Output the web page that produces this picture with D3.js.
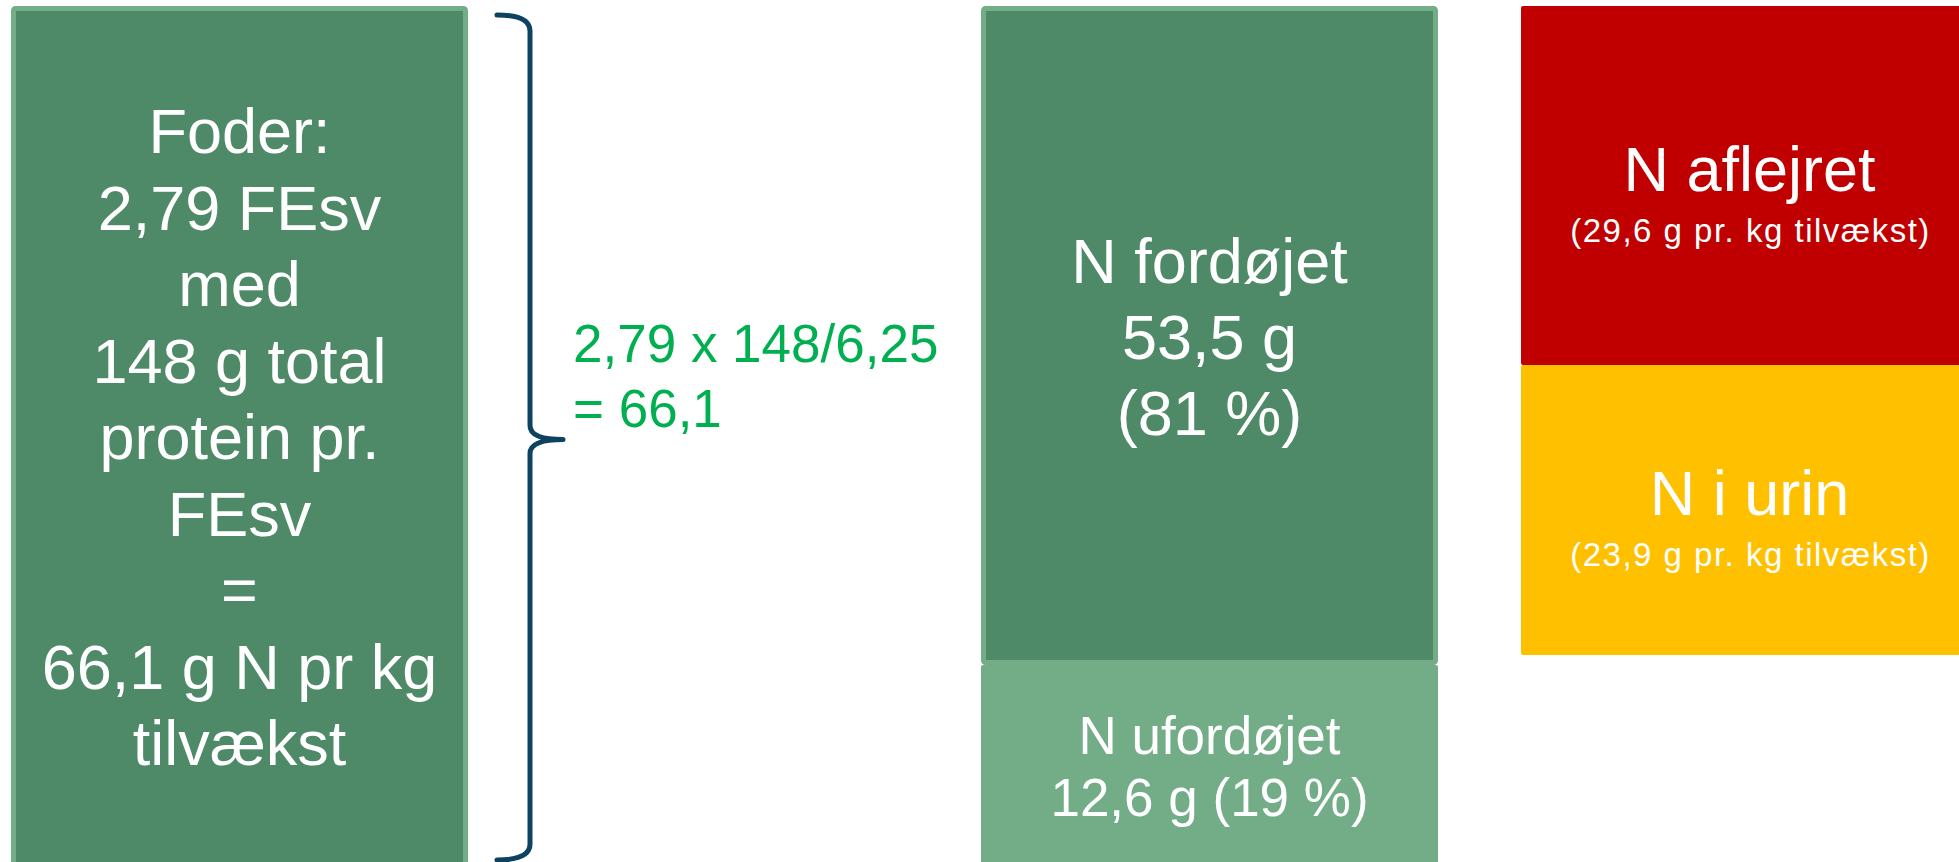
<!DOCTYPE html>
<html>
<head>
<meta charset="utf-8">
<script src="https://cdn.jsdelivr.net/npm/d3@7"></script>
<style>
  html, body { margin: 0; padding: 0; background: #ffffff; overflow: hidden; }
  svg { display: block; }
  text { font-family: "Liberation Sans", Arial, Helvetica, sans-serif; }
</style>
</head>
<body>
<svg id="chart"></svg>
<script>
// ---------------- data ----------------
const feedUnits = 2.79;          // FEsv per kg tilvækst
const proteinPerFE = 148;        // g total protein pr. FEsv
const nFactor = 6.25;            // protein -> N
const nTotal = 66.1;             // g N pr kg tilvækst

const digestCategories = ["N fordøjet", "N ufordøjet"];
const digestValues = [53.5, 12.6];
const digestPercents = [81, 19];

const fateCategories = ["N aflejret", "N i urin"];
const fateValues = [29.6, 23.9];

// ---------------- layout ----------------
const W = 1959, H = 862;
const topY = 6, overflowBottom = 867;
const colWidth = 457;
const colX = d3.scaleOrdinal().domain(["feed", "digest", "fate"]).range([11, 981, 1521]);
const digestBottom = 665, fateBottom = 655;

const darkGreen = "#4E8A67", lightGreen = "#72AD88", red = "#C00000",
      yellow = "#FFC000", formulaGreen = "#00B050", braceColor = "#0D4261";

const loc = d3.formatLocale({ decimal: ",", thousands: ".", grouping: [3], currency: ["", ""] });
const f1 = loc.format(".1f"), f2 = loc.format(".2f");

const svg = d3.select("#chart").attr("width", W).attr("height", H);

// scales
const yFeed = d3.scaleLinear().domain([0, nTotal]).range([topY, overflowBottom]);
const yDigest = d3.scaleLinear().domain([0, digestValues[0]]).range([topY, digestBottom]);
const yFate = d3.scaleLinear().domain([0, d3.sum(fateValues)]).range([topY, fateBottom]);

function box(x0, y0, x1, y1, fill, stroke, sw) {
  sw = sw || 0;
  svg.append("rect")
    .attr("x", x0 + sw / 2).attr("y", y0 + sw / 2)
    .attr("width", x1 - x0 - sw).attr("height", y1 - y0 - sw)
    .attr("rx", 2)
    .attr("fill", fill)
    .attr("stroke", stroke || "none")
    .attr("stroke-width", sw);
}

function lines(cx, firstBaseline, arr, size, lh, color) {
  const t = svg.append("text")
    .attr("text-anchor", "middle")
    .attr("font-size", size)
    .attr("fill", color);
  arr.forEach((s, i) => {
    t.append("tspan").attr("x", cx).attr("y", firstBaseline + i * lh).text(s);
  });
  return t;
}

// ---------- feed column ----------
const fx = colX("feed");
box(fx, yFeed(0), fx + colWidth, yFeed(nTotal), darkGreen, lightGreen, 5);
const feedLines = [
  "Foder:",
  f2(feedUnits) + " FEsv",
  "med",
  proteinPerFE + " g total",
  "protein pr.",
  "FEsv",
  "=",
  f1(nTotal) + " g N pr kg",
  "tilvækst"
];
{
  const cy = (yFeed(0) + yFeed(nTotal)) / 2, lh = 76.5, fs = 63;
  lines(fx + colWidth / 2, cy - (feedLines.length - 1) / 2 * lh + fs * 0.716 / 2, feedLines, fs, lh, "#ffffff");
}

// ---------- brace ----------
{
  const bx = 530, left = 497, tip = 563;
  const y0 = yFeed(0) + 9, y1 = H - 2, ym = (yFeed(0) + yFeed(nTotal)) / 2 + 3;
  const p = d3.path();
  p.moveTo(left, y0);
  p.quadraticCurveTo(bx, y0, bx, y0 + 16);
  p.lineTo(bx, ym - 14);
  p.quadraticCurveTo(bx, ym, tip, ym);
  p.quadraticCurveTo(bx, ym, bx, ym + 14);
  p.lineTo(bx, y1 - 16);
  p.quadraticCurveTo(bx, y1, left, y1);
  svg.append("path").attr("d", p.toString())
    .attr("fill", "none").attr("stroke", braceColor)
    .attr("stroke-width", 5).attr("stroke-linecap", "round").attr("stroke-linejoin", "round");

  const formula = svg.append("text").attr("font-size", 53).attr("fill", formulaGreen);
  formula.append("tspan").attr("x", 573).attr("y", ym - 78)
    .text(f2(feedUnits) + " x " + proteinPerFE + "/" + f2(nFactor));
  formula.append("tspan").attr("x", 573).attr("y", ym - 13)
    .text("= " + f1(feedUnits * proteinPerFE / nFactor));
}

// ---------- digest column ----------
const dx = colX("digest");
// undigested (lower) box runs from the end of the digested part to the column bottom
box(dx, yDigest(digestValues[0]), dx + colWidth, overflowBottom, lightGreen);
box(dx, yDigest(0), dx + colWidth, yDigest(digestValues[0]), darkGreen, lightGreen, 5);
{
  const cy = (yDigest(0) + yDigest(digestValues[0])) / 2, lh = 76, fs = 63;
  const arr = [digestCategories[0], f1(digestValues[0]) + " g", "(" + digestPercents[0] + " %)"];
  lines(dx + colWidth / 2, cy - lh + fs * 0.716 / 2 + 1, arr, fs, lh, "#ffffff");
}
{
  const cy = (yDigest(digestValues[0]) + overflowBottom) / 2, lh = 62, fs = 53;
  const arr = [digestCategories[1], f1(digestValues[1]) + " g (" + digestPercents[1] + " %)"];
  lines(dx + colWidth / 2, cy - lh / 2 + fs * 0.716 / 2, arr, fs, lh, "#ffffff");
}

// ---------- fate column ----------
const rx = colX("fate");
const fateColors = [red, yellow];
let acc = 0;
fateValues.forEach((v, i) => {
  const y0 = yFate(acc), y1 = yFate(acc + v);
  acc += v;
  box(rx, y0, rx + colWidth, y1, fateColors[i]);
  const cy = (y0 + y1) / 2;
  const cx = rx + colWidth / 2;
  svg.append("text").attr("x", cx).attr("y", cy + 5)
    .attr("text-anchor", "middle").attr("font-size", 63).attr("fill", "#ffffff")
    .text(fateCategories[i]);
  svg.append("text").attr("x", cx + 1).attr("y", cy + 56)
    .attr("text-anchor", "middle").attr("font-size", 33).attr("letter-spacing", 1.5)
    .attr("fill", "#ffffff")
    .text("(" + f1(v) + " g pr. kg tilvækst)");
});
</script>
</body>
</html>
